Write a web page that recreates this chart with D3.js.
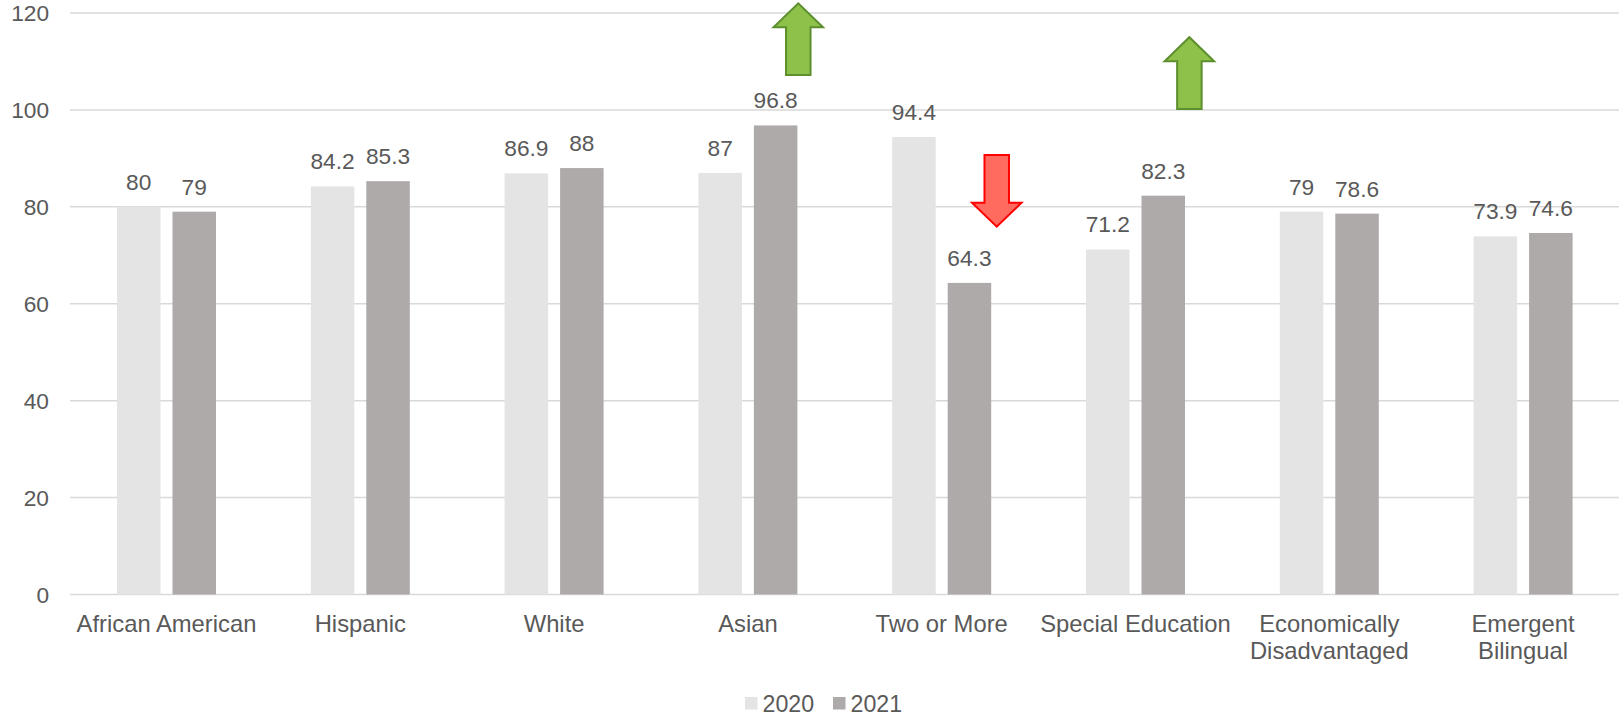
<!DOCTYPE html>
<html>
<head>
<meta charset="utf-8">
<script src="https://cdn.jsdelivr.net/npm/d3@7"></script>
<style>
  html, body { margin: 0; padding: 0; background: #fff; }
  svg { display: block; font-family: "Liberation Sans", Arial, sans-serif; }
</style>
</head>
<body>
<svg id="chart" width="1619" height="717"></svg>
<script>
const categories = ["African American", "Hispanic", "White", "Asian", "Two or More", "Special Education", "Economically\nDisadvantaged", "Emergent\nBilingual"];
const seriesNames = ["2020", "2021"];
const values2020 = [80, 84.2, 86.9, 87, 94.4, 71.2, 79, 73.9];
const values2021 = [79, 85.3, 88, 96.8, 64.3, 82.3, 78.6, 74.6];
const yTicks = [0, 20, 40, 60, 80, 100, 120];
// annotation arrows (in data units: category, position within band, start value, end value)
const arrowCats = ["Asian", "Special Education", "Two or More"];
const arrowPos = [0.76, 0.778, 0.784];
const arrowFrom = [107.2, 100.2, 90.7];
const arrowTo = [122.0, 115.0, 75.9];

(function () {
const colors = { "2020": "#e4e4e4", "2021": "#aeaaaa" };
const textColor = "#595959";
const fs = 22.7;
const catFs = 23.8;

const svg = d3.select("#chart");
const mLeft = 69.6, mRight = 1620, mTop = 13, mBottom = 594.5;

const x0 = d3.scaleBand().domain(categories).range([mLeft, mRight]).paddingInner(0).paddingOuter(0);
const bw = x0.bandwidth();
const groupW = 99;
const x1 = d3.scaleBand().domain(seriesNames).range([(bw - groupW) / 2, (bw + groupW) / 2]).paddingInner(0.216).paddingOuter(0);
const y = d3.scaleLinear().domain([0, 120]).range([mBottom, mTop]);

// gridlines
svg.append("g").selectAll("line").data(yTicks).join("line")
  .attr("x1", 70).attr("x2", mRight)
  .attr("y1", d => y(d)).attr("y2", d => y(d))
  .attr("stroke", "#d9d9d9").attr("stroke-width", 1.5);

// y tick labels
svg.append("g").selectAll("text").data(yTicks).join("text")
  .attr("x", 49).attr("y", d => y(d)).attr("dy", "0.36em")
  .attr("text-anchor", "end").attr("font-size", fs).attr("fill", textColor)
  .text(d => d);

const rows = categories.map((c, i) => ({ cat: c, vals: [
  { key: "2020", v: values2020[i] }, { key: "2021", v: values2021[i] }] }));

const groups = svg.append("g").selectAll("g").data(rows).join("g")
  .attr("transform", d => `translate(${x0(d.cat)},0)`);

groups.selectAll("rect").data(d => d.vals).join("rect")
  .attr("x", d => x1(d.key)).attr("width", x1.bandwidth())
  .attr("y", d => y(d.v)).attr("height", d => y(0) - y(d.v))
  .attr("fill", d => colors[d.key]);

groups.selectAll("text.lbl").data(d => d.vals).join("text")
  .attr("class", "lbl")
  .attr("x", d => x1(d.key) + x1.bandwidth() / 2)
  .attr("y", d => y(d.v) - 17)
  .attr("text-anchor", "middle").attr("font-size", fs).attr("fill", textColor)
  .text(d => d.v);

// category labels
const catText = svg.append("g").selectAll("text").data(categories).join("text")
  .attr("text-anchor", "middle").attr("font-size", catFs).attr("fill", textColor)
  .attr("x", d => x0(d) + bw / 2).attr("y", 632);
catText.selectAll("tspan").data(d => d.split("\n").map(s => ({ s, parent: d }))).join("tspan")
  .attr("x", d => x0(d.parent) + bw / 2)
  .attr("dy", (d, i) => i === 0 ? 0 : 26.5)
  .text(d => d.s);

// arrows
const shaftW = 24.5, headW = 49.5, headL = 24;
arrowCats.forEach((c, i) => {
  const cx = x0(c) + bw * arrowPos[i];
  const yS = y(arrowFrom[i]), yT = y(arrowTo[i]);
  const up = yT < yS;
  const hb = up ? yT + headL : yT - headL;
  const p = d3.path();
  p.moveTo(cx - shaftW / 2, yS);
  p.lineTo(cx - shaftW / 2, hb);
  p.lineTo(cx - headW / 2, hb);
  p.lineTo(cx, yT);
  p.lineTo(cx + headW / 2, hb);
  p.lineTo(cx + shaftW / 2, hb);
  p.lineTo(cx + shaftW / 2, yS);
  p.closePath();
  svg.append("path").attr("d", p.toString())
    .attr("fill", up ? "#8dc149" : "#ff6b5e")
    .attr("stroke", up ? "#5e8f2e" : "#ff0000")
    .attr("stroke-width", 2).attr("stroke-linejoin", "miter");
});

// legend
const legendX = [745, 833];
const lg = svg.append("g").selectAll("g").data(seriesNames).join("g")
  .attr("transform", (d, i) => `translate(${legendX[i]},0)`);
lg.append("rect").attr("x", 0).attr("y", 697).attr("width", 12.5).attr("height", 12.5)
  .attr("fill", d => colors[d]);
lg.append("text").attr("x", 17.5).attr("y", 712).attr("font-size", 23.2).attr("fill", textColor)
  .text(d => d);
})();
</script>
</body>
</html>
